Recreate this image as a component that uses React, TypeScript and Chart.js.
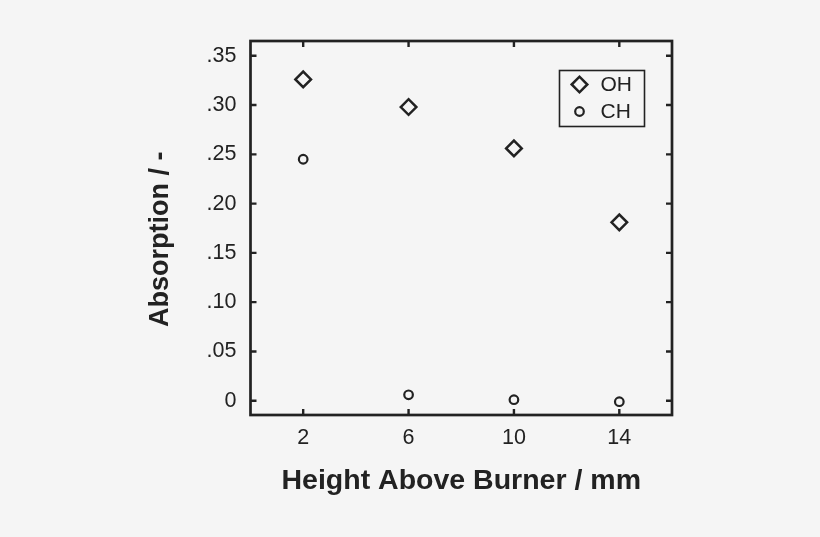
import { useEffect, useRef } from "react"
import { Chart, registerables } from "chart.js"
import { drawPoint } from "chart.js/helpers"

Chart.register(...registerables)

const heights = [2, 6, 10, 14]
const ohValues = [0.326, 0.298, 0.256, 0.181]
const chValues = [0.245, 0.006, 0.001, -0.001]
const xTickValues = [2, 6, 10, 14]
const yTickValues = [0, 0.05, 0.1, 0.15, 0.2, 0.25, 0.3, 0.35]
const yTickLabels = ["0", ".05", ".10", ".15", ".20", ".25", ".30", ".35"]

const ink = "#222222"
const bg = "#f5f5f5"
const fontFamily = "'Liberation Sans', Arial, Helvetica, sans-serif"

// box, inward ticks on all four sides, and the boxed legend
const framePlugin = {
  id: "frame",
  afterDraw(chart: any) {
    const { ctx, chartArea, scales } = chart
    const { left, right, top, bottom } = chartArea
    const tick = 6
    ctx.save()
    ctx.strokeStyle = ink
    ctx.lineWidth = 2.7
    ctx.strokeRect(left, top, right - left, bottom - top)
    ctx.lineWidth = 2.4
    ctx.beginPath()
    xTickValues.forEach((v) => {
      const x = scales.x.getPixelForValue(v)
      ctx.moveTo(x, bottom)
      ctx.lineTo(x, bottom - tick)
      ctx.moveTo(x, top)
      ctx.lineTo(x, top + tick)
    })
    yTickValues.forEach((v) => {
      const y = scales.y.getPixelForValue(v)
      ctx.moveTo(left, y)
      ctx.lineTo(left + tick, y)
      ctx.moveTo(right, y)
      ctx.lineTo(right - tick, y)
    })
    ctx.stroke()

    // legend
    const bx = 559.5
    const by = 70.5
    ctx.fillStyle = bg
    ctx.fillRect(bx, by, 85, 56)
    ctx.lineWidth = 1.6
    ctx.strokeRect(bx, by, 85, 56)
    ctx.font = `21px ${fontFamily}`
    ctx.textBaseline = "middle"
    chart.data.datasets.forEach((ds: any, i: number) => {
      const cy = by + 14 + i * 27
      ctx.lineWidth = ds.borderWidth
      ctx.strokeStyle = ink
      ctx.fillStyle = "rgba(0,0,0,0)"
      drawPoint(ctx, { pointStyle: ds.pointStyle, radius: ds.pointRadius, borderWidth: ds.borderWidth, rotation: 0 }, bx + 20, cy)
      ctx.fillStyle = ink
      ctx.fillText(ds.label, bx + 41, cy + 1)
    })
    ctx.restore()
  },
}

export default function App() {
  const chartRef = useRef<HTMLCanvasElement | null>(null)
  const chartInstance = useRef<Chart | null>(null)

  useEffect(() => {
    document.body.style.margin = "0"
    document.body.style.background = bg
    if (!chartRef.current) return
    if (chartInstance.current) chartInstance.current.destroy()
    const ctx = chartRef.current.getContext("2d")
    if (!ctx) return

    chartInstance.current = new Chart(ctx, {
      type: "scatter",
      data: {
        datasets: [
          {
            label: "OH",
            data: heights.map((h, i) => ({ x: h, y: ohValues[i] })),
            pointStyle: "rectRot",
            pointRadius: 7.8,
            borderWidth: 2.5,
            borderColor: ink,
            backgroundColor: "rgba(0,0,0,0)",
          },
          {
            label: "CH",
            data: heights.map((h, i) => ({ x: h, y: chValues[i] })),
            pointStyle: "circle",
            pointRadius: 4.3,
            borderWidth: 2.2,
            borderColor: ink,
            backgroundColor: "rgba(0,0,0,0)",
          },
        ],
      },
      options: {
        responsive: false,
        animation: false,
        layout: { padding: { top: 41, right: 148, left: 0, bottom: 0 } },
        plugins: {
          legend: { display: false },
          tooltip: { enabled: false },
        },
        scales: {
          x: {
            type: "linear",
            min: 0,
            max: 16,
            afterFit: (scale: any) => {
              scale.height = 122
            },
            afterBuildTicks: (scale: any) => {
              scale.ticks = xTickValues.map((v) => ({ value: v }))
            },
            grid: { display: false, drawTicks: false },
            border: { display: false },
            ticks: {
              padding: 10,
              color: ink,
              font: { family: fontFamily, size: 21.5 },
              maxRotation: 0,
              callback: (v: any) => String(v),
            },
            title: {
              display: true,
              text: "Height Above Burner / mm",
              color: ink,
              font: { family: fontFamily, size: 28.5, weight: "bold" },
              padding: { top: 0, bottom: 39 },
            },
          },
          y: {
            type: "linear",
            min: -0.0145,
            max: 0.365,
            afterFit: (scale: any) => {
              scale.width = 250.5
            },
            afterBuildTicks: (scale: any) => {
              scale.ticks = yTickValues.map((v) => ({ value: v }))
            },
            grid: { display: false, drawTicks: false },
            border: { display: false },
            ticks: {
              padding: 14,
              color: ink,
              font: { family: fontFamily, size: 21.5 },
              callback: (_v: any, i: number) => yTickLabels[i],
            },
            title: {
              display: true,
              text: "Absorption / -\u00a0\u00a0\u00a0",
              color: ink,
              font: { family: fontFamily, size: 27, weight: "bold" },
              padding: { top: 144, bottom: 0 },
            },
          },
        },
      },
      plugins: [framePlugin],
    })

    return () => {
      if (chartInstance.current) {
        chartInstance.current.destroy()
        chartInstance.current = null
      }
    }
  }, [])

  return (
    <div style={{ width: 820, height: 537, background: bg }}>
      <canvas ref={chartRef} width={820} height={537} />
    </div>
  )
}
